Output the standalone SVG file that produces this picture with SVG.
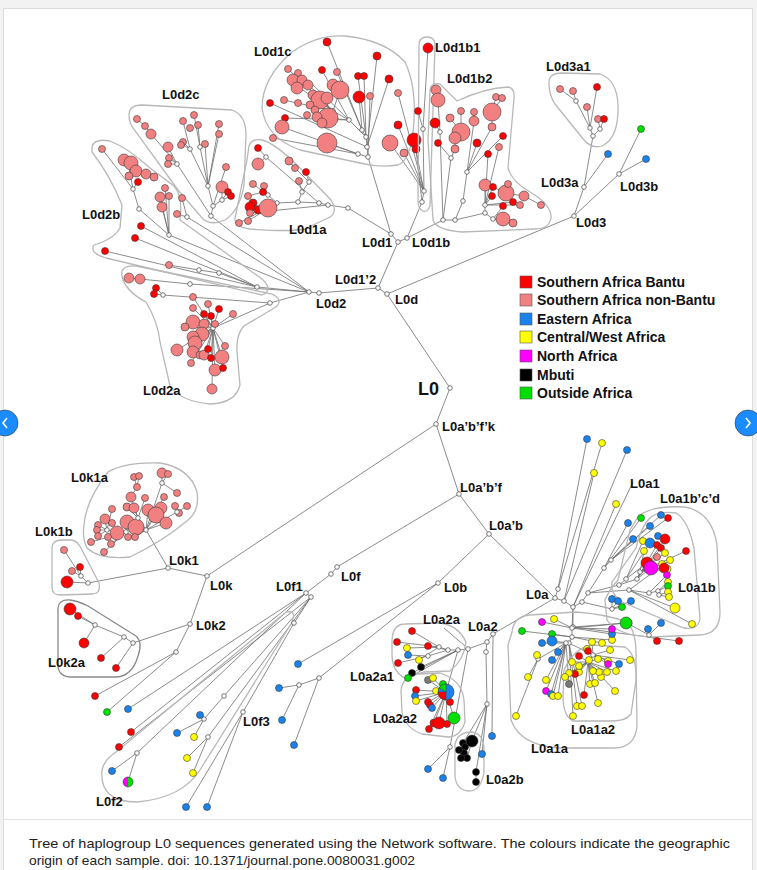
<svg xmlns="http://www.w3.org/2000/svg" width="757" height="870" viewBox="0 0 757 870">
<defs>
<style>
.e{fill:none;stroke:#6f6f6f;stroke-width:.8}
.h{fill:none;stroke:#b8b8b8;stroke-width:1.3}
.hd{fill:none;stroke:#8a8a8a;stroke-width:1.3}
circle{stroke:#3a3a3a;stroke-width:.6}
.n{fill:#fff;stroke:#555;stroke-width:.8}
.R{fill:#ff0000}.P{fill:#f38080}.B{fill:#1a82ec}.Y{fill:#ffff00}.M{fill:#ff00ff}.K{fill:#000}.G{fill:#00e000}.Gr{fill:#7a7a7a}
.l{font-family:"Liberation Sans",Arial,sans-serif;font-weight:bold;font-size:13px;fill:#111}
.lg{font-family:"Liberation Sans",Arial,sans-serif;font-weight:bold;font-size:14px;fill:#111}
.cap{font-family:"Liberation Sans",Arial,sans-serif;font-size:13px;fill:#222}
</style>
</defs>
<rect x="0" y="0" width="757" height="870" fill="#fff"/>
<rect x="0" y="0" width="757" height="8" fill="#f2f2f2"/>
<line x1="0" y1="8.5" x2="757" y2="8.5" stroke="#dcdcdc"/>
<rect x="0" y="8" width="3" height="862" fill="#f2f2f2"/>
<line x1="3.5" y1="8" x2="3.5" y2="870" stroke="#dcdcdc"/>
<line x1="752.5" y1="8" x2="752.5" y2="870" stroke="#dcdcdc"/>
<rect x="753" y="8" width="4" height="862" fill="#f2f2f2"/>
<line x1="3" y1="819.5" x2="753" y2="819.5" stroke="#e2e2e2"/>

<g id="connectors" class="e">
<path d="M450,388 L387,294 M387,294 L378,288 M387,294 L574,216 M450,388 L436,424 M378,288 L398,242 L407,238 M398,242 L391,234 L368,157 M391,234 L348,208 M378,288 L319,293 L309,292 M436,424 L459,494 L489,534 L555,598 M489,534 L438,583 M459,494 L337,567 L331,574 M436,424 L207,576"/>
<path d="M574,216 L584,187 L608,154 M584,187 L593,136 L590,128 L576,101 L560,89 M576,101 L573,91 M590,128 L587,107 M590,128 L597,87 M593,136 L600,129 L598,119 M600,129 L604,119 M574,216 L619,174 L641,129 M619,174 L646,159"/>
<path d="M368,157 L367,147 L366,137 L362,130 M368,157 L358,154 L273,138 M358,154 L327,143 M358,154 L282,127 M367,147 L270,103 M366,137 L349,120 L333,111 L320,100 M333,111 L340,90 M362,130 L327,42 M362,130 L337,72 M366,137 L358,76 M366,137 L364,76 M367,147 L377,56 M368,157 L370,96 M349,120 L328,118 M362,130 L359,97 M333,111 L288,69 M333,111 L298,73 M349,120 L322,70 M333,111 L284,100 M349,120 L285,118 M367,147 L389,79 M333,111 L300,88 M349,120 L310,82"/>
<path d="M407,238 L422,202 L424,191 L423,129 L428,48 M423,129 L418,111 M424,191 L414,140 M424,191 L404,153 M424,191 L390,143 M424,191 L398,125 M422,202 L416,149 M424,191 L398,93"/>
<path d="M407,238 L443,220 L455,220 L485,213 L493,219 L503,219 M493,219 L513,223 M443,220 L440,132 L438,100 L436,90 M440,132 L435,123 M443,220 L451,158 L455,149 L455,138 L461,132 M451,158 L438,143 M455,220 L463,201 L467,172 L474,121 L474,112 M461,132 L450,118 M461,132 L461,111 M467,172 L477,143 M467,172 L492,127 L492,112 M492,112 L496,97 M492,112 L502,98 M467,172 L503,136 M485,213 L485,205 L485,185 M485,205 L488,154 M485,205 L499,147 M485,205 L493,187 L506,193 M485,205 L492,196 M493,219 L503,206 M485,205 L520,205 M506,193 L524,196 L541,205 M506,193 L508,184 M485,205 L513,202"/>
<path d="M348,208 L328,205 L319,203 L298,202 L277,203 L268,195 M277,203 L268,208 M268,195 L264,186 M268,195 L253,184 M298,202 L302,192 L309,182 L306,172 M302,192 L299,181 M309,182 L295,168 L289,161 M319,203 L266,157 L258,148 M266,157 L258,164 M328,205 L250,213 M277,203 L239,223 M277,203 L248,221 M268,195 L263,192 L248,196 M277,203 L250,207 M277,203 L258,210"/>
<path d="M309,292 L211,216 L213,206 L208,186 L190,149 L183,121 M190,149 L183,142 M190,149 L181,144 M208,186 L200,147 L194,115 M200,147 L198,125 M208,186 L219,124 M208,186 L219,134 M208,186 L205,144 M213,206 L226,167 M213,206 L222,200 L222,187 M222,200 L228,192 M222,200 L231,196 M211,216 L177,164 L168,147 M177,164 L151,134 L145,126 L137,119 M177,164 L169,158 M177,164 L168,164"/>
<path d="M309,292 L169,235 L139,209 L133,189 L129,168 M133,189 L102,149 M133,189 L138,182 M169,235 L165,188 M169,235 L160,197 M169,235 L162,207 M169,235 L169,196 M309,292 L187,217 L182,198 M187,217 L177,214 M257,287 L141,226 M257,287 L135,238 M309,292 L257,287 L219,273 L199,270 L169,265 M257,287 L105,251 M309,292 L190,284 L140,279 L129,278 M270,303 L163,295 L156,288 M163,295 L154,294 M309,292 L270,303 L213,328"/>
<path d="M213,328 L193,297 M213,328 L208,304 M213,328 L219,309 M213,328 L204,314 M213,328 L211,316 M213,328 L233,314 M213,328 L193,308 M213,328 L193,322 M213,328 L185,327 M213,328 L202,334 M213,328 L195,343 M213,328 L177,350 M213,328 L193,352 M213,328 L208,349 M213,328 L211,358 M213,328 L222,357 M213,328 L215,370 M213,328 L223,368 M213,328 L212,389 M213,328 L225,346 M213,328 L191,363 M213,328 L204,355"/>
<path d="M207,576 L168,568 L146,530 M168,568 L88,583 L81,576 L72,571 M81,576 L80,567 M81,576 L64,550 M88,583 L67,582 M207,576 L190,624 L133,643 L124,637 L95,625 L70,609 M95,625 L78,616 M95,625 L84,643 M124,637 L101,658 M133,643 L116,668 M190,624 L176,652 L95,696 M176,652 L107,712"/>
<path d="M146,530 L138,518 L134,508 M138,518 L131,497 L137,487 L134,477 M137,487 L139,476 M138,518 L126,532 L117,533 M126,532 L107,530 L105,519 M107,530 L98,525 M107,530 L97,530 M107,530 L98,536 M107,530 L112,509 M126,532 L127,522 M146,530 L177,512 L187,506 M177,512 L179,513 M177,512 L175,506 M146,530 L162,483 L162,473 M162,483 L168,474 M146,530 L164,497 M146,530 L161,508 M146,530 L166,523 M146,530 L148,510 M126,532 L91,542 M126,532 L104,552 M126,532 L111,544 M138,518 L145,498 M138,518 L127,507 M126,532 L108,537 M146,530 L136,527 M146,530 L128,537 M146,530 L135,537 M162,483 L177,493"/>
<path d="M331,574 L306,593 L311,597 L294,623 M306,593 L128,709 M306,593 L131,732 M311,597 L119,747 M306,593 L137,753 L112,771 M137,753 L128,782 M311,597 L224,696 L204,719 L200,715 M204,719 L177,733 M204,719 L194,737 M311,597 L208,737 L187,758 M208,737 L193,773 M294,623 L243,712 L186,807 M243,712 L207,807"/>
<path d="M438,583 L298,664 M438,583 L319,678 L299,685 L279,688 M299,685 L282,720 M319,678 L294,745"/>
<path d="M555,598 L558,589 L587,439 M558,589 L602,443 M564,601 L594,473 M564,601 L627,450 M573,607 L616,504 M573,607 L633,482 M555,598 L564,601 L573,607"/>
<path d="M573,607 L582,602 L588,593 L604,568 L628,523 M604,568 L611,560 L633,539 M604,568 L641,518 M611,560 L650,526 M611,560 L661,515 M611,560 L668,518 M588,593 L619,585 L626,579 L647,563 M626,579 L643,541 M626,579 L650,543 M619,585 L637,579 L657,545 M637,579 L661,548 M637,579 L665,539 M637,579 L640,572 L644,551 M640,572 L657,557 M640,572 L665,553 M640,572 L686,551 M588,593 L629,590 L649,593 L658,591 L668,582 M658,591 L668,586 M658,591 L659,595 L668,592 M659,595 L669,597 M649,593 L667,575 M629,590 L675,608 M629,590 L692,624 M629,590 L670,560 M582,602 L612,609 L612,599 M612,609 L618,601 M612,609 L631,601 M612,609 L622,607 M573,607 L573,627 L627,623 L649,635 L661,623 M649,635 L648,629 M649,635 L657,641 M573,627 L679,641 M637,579 L651,568 M640,572 L662,564 M640,572 L667,569"/>
<path d="M573,607 L572,628 L572,637 L569,643 L566,643 M572,628 L554,619 M572,628 L542,622 M572,628 L626,623 M572,628 L612,629 M572,628 L612,634 M572,637 L612,640 M572,637 L602,643 M572,637 L522,631 M572,637 L552,634 M569,643 L542,643 M569,643 L552,641 M566,643 L558,652 M566,643 L552,660 M566,643 L538,659 L528,677 M538,659 L516,716 M538,659 L537,655 M566,643 L546,680 M566,643 L546,691 M566,643 L551,694 M566,643 L553,696 M566,643 L558,696 M566,643 L569,684 M569,643 L573,716 M569,643 L577,706 M569,643 L582,706 M569,643 L593,655 L588,651 M593,655 L587,649 M593,655 L592,642 M593,655 L610,650 M593,655 L588,662 L579,656 M588,662 L572,662 M588,662 L579,666 M588,662 L589,660 M588,662 L598,659 M588,662 L584,695 M588,662 L575,674 M588,662 L569,673 M588,662 L565,677 M588,662 L579,672 M588,662 L593,671 M588,662 L599,672 M588,662 L601,677 M588,662 L607,672 M588,662 L616,671 M588,662 L590,684 M588,662 L595,683 M588,662 L598,703 M588,662 L615,691 M593,655 L608,661 M593,655 L608,664 M593,655 L619,664 M593,655 L630,660"/>
<path d="M555,598 L493,634 L487,642 L468,649 L458,650 L448,650 L439,647 L412,631 M439,647 L397,642 M448,650 L428,646 M439,647 L407,648 M448,650 L428,656 L408,655 M428,656 L398,663 M439,647 L419,660 M458,650 L421,667 M458,650 L412,673 M458,650 L408,678 M468,649 L450,747 L428,769 M450,747 L443,778 M458,650 L446,692 M446,692 L428,680 M446,692 L433,678 M446,692 L443,684 M446,692 L416,690 M446,692 L415,696 M446,692 L416,701 M446,692 L436,691 M446,692 L428,702 M446,692 L430,705 M446,692 L432,708 M446,692 L450,702 M446,692 L439,723 M446,692 L434,723 M446,692 L447,724 M446,692 L454,718 M446,692 L429,729 M487,642 L486,652 L487,704 L472,741 M487,704 L476,772 L476,782 M487,704 L463,743 M487,704 L482,754 M493,634 L492,736 M472,741 L464,753 M472,741 L459,750 M472,741 L467,758 M472,741 L461,758 M444,628 L465,646"/>
</g>

<g id="backbone">
<circle class="n" cx="450" cy="388" r="2.3"/><circle class="n" cx="387" cy="294" r="2.3"/><circle class="n" cx="378" cy="288" r="2.3"/><circle class="n" cx="398" cy="242" r="2.3"/><circle class="n" cx="407" cy="238" r="2.3"/><circle class="n" cx="391" cy="234" r="2.3"/><circle class="n" cx="436" cy="424" r="2.3"/><circle class="n" cx="459" cy="494" r="2.3"/><circle class="n" cx="489" cy="534" r="2.3"/><circle class="n" cx="555" cy="598" r="2.3"/><circle class="n" cx="438" cy="583" r="2.3"/><circle class="n" cx="337" cy="567" r="2.3"/><circle class="n" cx="331" cy="574" r="2.3"/>
<text class="l" x="418" y="395" style="font-size:18px">L0</text>
<text class="l" x="395" y="304">L0d</text>
<text class="l" x="335" y="284">L0d1’2</text>
<text class="l" x="362" y="247">L0d1</text>
<text class="l" x="412" y="247">L0d1b</text>
<text class="l" x="442" y="431">L0a’b’f’k</text>
<text class="l" x="460" y="492">L0a’b’f</text>
<text class="l" x="489" y="530">L0a’b</text>
<text class="l" x="341" y="581">L0f</text>
<text class="l" x="444" y="592">L0b</text>
<text class="l" x="526" y="599">L0a</text>
</g>

<g id="L0d3">
<path class="h" d="M549,84 Q548,73 562,73 L600,74 Q617,80 618,105 Q619,138 602,146 Q592,149 584,140 L555,104 Q549,95 549,84 Z"/>
<circle class="n" cx="574" cy="216" r="2.3"/><circle class="n" cx="584" cy="187" r="2.3"/><circle class="n" cx="619" cy="174" r="2.3"/><circle class="n" cx="593" cy="136" r="2.3"/><circle class="n" cx="590" cy="128" r="2.3"/><circle class="n" cx="600" cy="129" r="2.3"/><circle class="n" cx="576" cy="101" r="2.3"/>
<circle class="B" cx="608" cy="154" r="3.5"/><circle class="G" cx="641" cy="129" r="3.5"/><circle class="B" cx="646" cy="159" r="3.5"/>
<circle class="P" cx="560" cy="89" r="3.5"/><circle class="P" cx="573" cy="91" r="3.5"/><circle class="R" cx="597" cy="87" r="3.5"/><circle class="P" cx="587" cy="107" r="3.5"/><circle class="P" cx="598" cy="119" r="3.5"/><circle class="R" cx="604" cy="119" r="3.5"/>
<text class="l" x="546" y="71">L0d3a1</text>
<text class="l" x="541" y="187">L0d3a</text>
<text class="l" x="620" y="191">L0d3b</text>
<text class="l" x="576" y="227">L0d3</text>
</g>

<g id="L0d1c">
<path class="h" d="M262,108 Q262,78 292,52 Q318,34 345,36 Q385,40 405,62 Q416,85 414,120 Q412,160 398,165 Q380,168 360,163 L300,150 Q266,138 262,108 Z"/>
<circle class="n" cx="368" cy="157" r="2.3"/><circle class="n" cx="358" cy="154" r="2.3"/><circle class="n" cx="367" cy="147" r="2.3"/><circle class="n" cx="366" cy="137" r="2.3"/><circle class="n" cx="362" cy="130" r="2.3"/><circle class="n" cx="349" cy="120" r="2.3"/><circle class="n" cx="333" cy="111" r="2.3"/>
<circle class="R" cx="327" cy="42" r="4"/><circle class="R" cx="377" cy="56" r="4"/><circle class="P" cx="288" cy="69" r="3.5"/><circle class="P" cx="298" cy="73" r="3.5"/><circle class="R" cx="322" cy="70" r="3.5"/><circle class="P" cx="337" cy="72" r="3.5"/><circle class="R" cx="358" cy="76" r="3.5"/><circle class="R" cx="364" cy="76" r="3.5"/>
<circle class="P" cx="293" cy="80" r="6"/><circle class="P" cx="302" cy="80" r="5"/><circle class="P" cx="297" cy="88" r="6"/><circle class="P" cx="308" cy="85" r="5"/><circle class="P" cx="313" cy="95" r="5"/><circle class="P" cx="333" cy="85" r="6"/><circle class="P" cx="340" cy="90" r="9"/><circle class="P" cx="320" cy="100" r="9"/><circle class="P" cx="327" cy="98" r="6"/><circle class="P" cx="310" cy="105" r="4"/><circle class="P" cx="315" cy="110" r="4"/><circle class="P" cx="328" cy="118" r="10"/><circle class="P" cx="317" cy="117" r="5"/><circle class="P" cx="322" cy="123" r="5"/><circle class="P" cx="307" cy="115" r="3.5"/><circle class="P" cx="298" cy="103" r="3.5"/><circle class="P" cx="284" cy="100" r="3.5"/>
<circle class="R" cx="359" cy="97" r="6"/><circle class="P" cx="370" cy="96" r="3.5"/><circle class="R" cx="270" cy="103" r="3.5"/><circle class="R" cx="285" cy="118" r="3.5"/><circle class="P" cx="282" cy="127" r="7"/><circle class="P" cx="273" cy="138" r="3.5"/><circle class="P" cx="327" cy="143" r="10"/>
<circle class="R" cx="389" cy="79" r="4"/><circle class="P" cx="398" cy="93" r="3.5"/><circle class="R" cx="398" cy="125" r="4"/><circle class="P" cx="390" cy="143" r="8"/><circle class="R" cx="414" cy="140" r="7"/><circle class="R" cx="416" cy="149" r="4"/><circle class="P" cx="404" cy="153" r="4"/>
<text class="l" x="254" y="56">L0d1c</text>
</g>

<g id="L0d1b1">
<path class="h" d="M419,45 Q419,37 427,37 Q435,37 435,45 L430,206 Q427,213 423,211 Q418,209 418,200 Z"/>
<circle class="n" cx="423" cy="129" r="2.3"/><circle class="n" cx="424" cy="191" r="2.3"/><circle class="n" cx="422" cy="202" r="2.3"/>
<circle class="R" cx="428" cy="48" r="5"/><circle class="R" cx="418" cy="111" r="3.5"/>
<text class="l" x="435" y="52">L0d1b1</text>
</g>

<g id="L0d1b2">
<path class="h" d="M430,90 Q431,82 440,84 L457,101 Q485,88 508,87 Q515,88 514,98 L508,168 Q512,182 530,192 Q552,205 551,218 Q549,229 535,229 L462,232 Q436,230 433,220 L428,140 Z"/>
<circle class="n" cx="443" cy="220" r="2.3"/><circle class="n" cx="455" cy="220" r="2.3"/><circle class="n" cx="485" cy="213" r="2.3"/><circle class="n" cx="485" cy="205" r="2.3"/><circle class="n" cx="493" cy="219" r="2.3"/><circle class="n" cx="463" cy="201" r="2.3"/><circle class="n" cx="467" cy="172" r="2.3"/><circle class="n" cx="451" cy="158" r="2.3"/><circle class="n" cx="440" cy="132" r="2.3"/>
<circle class="P" cx="436" cy="90" r="5"/><circle class="P" cx="438" cy="100" r="7"/><circle class="R" cx="435" cy="123" r="5"/><circle class="P" cx="450" cy="118" r="4"/><circle class="P" cx="461" cy="111" r="3.5"/><circle class="P" cx="474" cy="112" r="3.5"/><circle class="P" cx="474" cy="121" r="5"/><circle class="P" cx="461" cy="132" r="9"/><circle class="P" cx="455" cy="138" r="6"/><circle class="P" cx="455" cy="149" r="4"/><circle class="R" cx="477" cy="143" r="4"/><circle class="R" cx="438" cy="143" r="3.5"/>
<circle class="P" cx="492" cy="112" r="9"/><circle class="P" cx="496" cy="97" r="3.5"/><circle class="P" cx="502" cy="98" r="3.5"/><circle class="P" cx="492" cy="127" r="4"/><circle class="R" cx="503" cy="136" r="3.5"/><circle class="P" cx="499" cy="147" r="3.5"/><circle class="R" cx="488" cy="154" r="3.5"/>
<circle class="P" cx="485" cy="185" r="6"/><circle class="R" cx="493" cy="187" r="3.5"/><circle class="P" cx="506" cy="193" r="8"/><circle class="P" cx="508" cy="184" r="3.5"/><circle class="P" cx="524" cy="196" r="5"/><circle class="P" cx="541" cy="205" r="3.5"/><circle class="R" cx="492" cy="196" r="3.5"/><circle class="R" cx="503" cy="206" r="3.5"/><circle class="R" cx="513" cy="202" r="3.5"/><circle class="P" cx="520" cy="205" r="3.5"/><circle class="P" cx="503" cy="219" r="7"/><circle class="P" cx="513" cy="223" r="4"/>
<text class="l" x="447" y="83">L0d1b2</text>
</g>

<g id="L0d1a">
<path class="h" d="M249,146 Q252,138 262,140 Q275,143 300,168 L331,200 Q338,212 330,217 L305,229 Q290,232 250,229 Q234,227 235,218 L247,160 Z"/>
<circle class="n" cx="348" cy="208" r="2.3"/><circle class="n" cx="328" cy="205" r="2.3"/><circle class="n" cx="319" cy="203" r="2.3"/><circle class="n" cx="298" cy="202" r="2.3"/><circle class="n" cx="277" cy="203" r="2.3"/><circle class="n" cx="268" cy="195" r="2.3"/><circle class="n" cx="302" cy="192" r="2.3"/><circle class="n" cx="309" cy="182" r="2.3"/><circle class="n" cx="266" cy="157" r="2.3"/>
<circle class="R" cx="258" cy="148" r="3.5"/><circle class="P" cx="258" cy="164" r="6"/><circle class="P" cx="289" cy="161" r="4"/><circle class="P" cx="295" cy="168" r="3.5"/><circle class="R" cx="306" cy="172" r="3.5"/><circle class="P" cx="299" cy="181" r="3.5"/><circle class="P" cx="253" cy="184" r="3.5"/><circle class="P" cx="264" cy="186" r="3.5"/><circle class="R" cx="263" cy="192" r="3.5"/><circle class="P" cx="248" cy="196" r="3.5"/>
<circle class="R" cx="253" cy="203" r="4"/><circle class="R" cx="250" cy="207" r="5"/><circle class="R" cx="258" cy="210" r="4"/><circle class="P" cx="268" cy="208" r="9"/><circle class="P" cx="250" cy="213" r="3.5"/><circle class="P" cx="239" cy="223" r="3.5"/><circle class="P" cx="248" cy="221" r="3.5"/>
<text class="l" x="289" y="234">L0d1a</text>
</g>

<g id="L0d2c">
<path class="h" d="M129,115 Q129,105 142,105 L232,110 Q246,115 246,135 L244,185 Q240,210 225,220 Q212,226 203,219 L178,190 L133,128 Q129,122 129,115 Z"/>
<circle class="n" cx="177" cy="164" r="2.3"/><circle class="n" cx="190" cy="149" r="2.3"/><circle class="n" cx="200" cy="147" r="2.3"/><circle class="n" cx="208" cy="186" r="2.3"/><circle class="n" cx="213" cy="206" r="2.3"/><circle class="n" cx="222" cy="200" r="2.3"/><circle class="n" cx="211" cy="216" r="2.3"/>
<circle class="P" cx="137" cy="119" r="3.5"/><circle class="P" cx="145" cy="126" r="3.5"/><circle class="P" cx="151" cy="134" r="5"/><circle class="P" cx="168" cy="147" r="5"/><circle class="P" cx="169" cy="158" r="3.5"/><circle class="P" cx="168" cy="164" r="3.5"/><circle class="P" cx="183" cy="121" r="3.5"/><circle class="P" cx="194" cy="115" r="3.5"/><circle class="P" cx="198" cy="125" r="3.5"/><circle class="P" cx="190" cy="128" r="3.5"/><circle class="P" cx="219" cy="124" r="3.5"/><circle class="P" cx="219" cy="134" r="3.5"/><circle class="P" cx="205" cy="144" r="3.5"/><circle class="P" cx="183" cy="142" r="3.5"/><circle class="P" cx="181" cy="145" r="3.5"/><circle class="P" cx="226" cy="167" r="3.5"/><circle class="P" cx="222" cy="187" r="6"/><circle class="R" cx="228" cy="192" r="3.5"/><circle class="R" cx="231" cy="196" r="3.5"/>
<text class="l" x="162" y="99">L0d2c</text>
</g>

<g id="L0d2b">
<path class="h" d="M92,147 Q94,138 110,141 Q128,148 150,168 L174,186 Q183,196 180,220 L262,279 Q274,290 262,295 L106,258 Q89,253 94,245 Q114,239 120,228 L122,205 Q110,175 92,152 Z"/>
<circle class="n" cx="133" cy="189" r="2.3"/><circle class="n" cx="139" cy="209" r="2.3"/><circle class="n" cx="169" cy="235" r="2.3"/><circle class="n" cx="187" cy="217" r="2.3"/><circle class="n" cx="257" cy="287" r="2.3"/><circle class="n" cx="219" cy="273" r="2.3"/><circle class="n" cx="199" cy="270" r="2.3"/>
<circle class="P" cx="102" cy="149" r="3.5"/><circle class="P" cx="124" cy="160" r="6"/><circle class="P" cx="131" cy="163" r="7"/><circle class="P" cx="136" cy="171" r="6"/><circle class="P" cx="146" cy="174" r="5"/><circle class="P" cx="154" cy="177" r="4"/><circle class="P" cx="129" cy="176" r="4"/><circle class="R" cx="138" cy="182" r="3.5"/>
<circle class="P" cx="165" cy="188" r="3.5"/><circle class="P" cx="160" cy="197" r="5"/><circle class="P" cx="162" cy="207" r="5"/><circle class="P" cx="169" cy="196" r="3.5"/><circle class="P" cx="182" cy="198" r="3.5"/><circle class="P" cx="177" cy="214" r="3.5"/><circle class="R" cx="141" cy="226" r="3.5"/><circle class="R" cx="135" cy="238" r="3.5"/><circle class="R" cx="105" cy="251" r="3.5"/><circle class="P" cx="169" cy="265" r="3.5"/>
<text class="l" x="82" y="219">L0d2b</text>
</g>

<g id="L0d2a">
<path class="h" d="M122,276 Q120,265 136,266 L200,279 L272,294 Q284,300 276,307 L244,326 Q236,334 237,352 L240,385 Q236,403 210,404 Q180,401 170,386 L160,342 Q158,322 146,302 Q125,291 122,276 Z"/>
<circle class="n" cx="190" cy="284" r="2.3"/><circle class="n" cx="163" cy="295" r="2.3"/><circle class="n" cx="270" cy="303" r="2.3"/><circle class="n" cx="309" cy="292" r="2.3"/><circle class="n" cx="319" cy="293" r="2.3"/><circle class="n" cx="213" cy="328" r="2.3"/>
<circle class="P" cx="129" cy="278" r="5"/><circle class="P" cx="140" cy="279" r="5"/><circle class="R" cx="156" cy="288" r="3.5"/><circle class="R" cx="154" cy="294" r="3.5"/>
<circle class="P" cx="193" cy="297" r="3.5"/><circle class="P" cx="208" cy="304" r="3.5"/><circle class="R" cx="219" cy="309" r="3.5"/><circle class="R" cx="204" cy="314" r="3.5"/><circle class="R" cx="211" cy="316" r="3.5"/><circle class="P" cx="233" cy="314" r="3.5"/><circle class="P" cx="193" cy="308" r="3.5"/>
<circle class="P" cx="193" cy="322" r="7"/><circle class="P" cx="204" cy="324" r="5"/><circle class="P" cx="185" cy="327" r="4"/><circle class="P" cx="202" cy="334" r="7"/><circle class="P" cx="193" cy="337" r="6"/><circle class="P" cx="195" cy="343" r="7"/><circle class="P" cx="177" cy="350" r="6"/><circle class="P" cx="193" cy="352" r="6"/><circle class="P" cx="200" cy="355" r="4"/><circle class="P" cx="204" cy="355" r="5"/><circle class="P" cx="225" cy="346" r="3.5"/><circle class="R" cx="208" cy="349" r="3.5"/><circle class="R" cx="211" cy="358" r="3.5"/><circle class="P" cx="222" cy="357" r="7"/><circle class="P" cx="191" cy="363" r="3.5"/><circle class="P" cx="215" cy="370" r="6"/><circle class="R" cx="223" cy="368" r="3.5"/><circle class="P" cx="212" cy="389" r="5"/><circle class="P" cx="215" cy="324" r="3.5"/>
<text class="l" x="143" y="395">L0d2a</text>
<text class="l" x="316" y="308">L0d2</text>
</g>

<g id="L0k">
<path class="h" d="M84,525 Q86,500 108,472 Q125,462 160,463 Q190,468 197,492 Q200,510 188,520 Q165,540 130,557 Q100,560 87,548 Q82,538 84,525 Z"/>
<path class="h" d="M52,548 Q52,540 62,540 L72,540 Q78,541 82,550 L99,583 Q101,594 92,594 L60,595 Q52,595 52,587 Z"/>
<path class="hd" d="M58,608 Q59,599 70,600 Q78,601 88,606 L136,636 Q143,642 138,656 Q132,677 115,677 L70,677 Q58,676 58,665 Z"/>
<circle class="n" cx="207" cy="576" r="2.3"/><circle class="n" cx="168" cy="568" r="2.3"/><circle class="n" cx="146" cy="530" r="2.3"/><circle class="n" cx="88" cy="583" r="2.3"/><circle class="n" cx="81" cy="576" r="2.3"/><circle class="n" cx="190" cy="624" r="2.3"/><circle class="n" cx="133" cy="643" r="2.3"/><circle class="n" cx="124" cy="637" r="2.3"/><circle class="n" cx="95" cy="625" r="2.3"/><circle class="n" cx="176" cy="652" r="2.3"/>
<circle class="P" cx="162" cy="473" r="5"/><circle class="P" cx="168" cy="474" r="3.5"/><circle class="P" cx="134" cy="477" r="3.5"/><circle class="P" cx="139" cy="476" r="3.5"/><circle class="P" cx="137" cy="487" r="3.5"/><circle class="P" cx="131" cy="497" r="5"/><circle class="P" cx="145" cy="498" r="3.5"/><circle class="P" cx="164" cy="497" r="3.5"/><circle class="P" cx="177" cy="493" r="3.5"/><circle class="P" cx="127" cy="507" r="4"/><circle class="P" cx="134" cy="508" r="5"/><circle class="P" cx="148" cy="510" r="6"/><circle class="P" cx="161" cy="508" r="6"/><circle class="P" cx="175" cy="506" r="3.5"/><circle class="P" cx="187" cy="506" r="3.5"/><circle class="P" cx="179" cy="513" r="3.5"/><circle class="P" cx="156" cy="515" r="8"/><circle class="P" cx="112" cy="509" r="3.5"/><circle class="P" cx="105" cy="519" r="5"/><circle class="P" cx="112" cy="523" r="3.5"/><circle class="P" cx="98" cy="525" r="3.5"/><circle class="P" cx="97" cy="530" r="3.5"/><circle class="P" cx="98" cy="536" r="3.5"/><circle class="P" cx="127" cy="522" r="7"/><circle class="P" cx="136" cy="527" r="8"/><circle class="P" cx="117" cy="533" r="7"/><circle class="P" cx="108" cy="537" r="3.5"/><circle class="P" cx="128" cy="537" r="3.5"/><circle class="P" cx="135" cy="537" r="3.5"/><circle class="P" cx="166" cy="523" r="6"/><circle class="P" cx="91" cy="542" r="3.5"/><circle class="P" cx="104" cy="552" r="3.5"/><circle class="P" cx="111" cy="544" r="3.5"/>
<circle class="n" cx="138" cy="518" r="2.3"/><circle class="n" cx="126" cy="532" r="2.3"/><circle class="n" cx="107" cy="530" r="2.3"/><circle class="n" cx="177" cy="512" r="2.3"/><circle class="n" cx="162" cy="483" r="2.3"/>
<circle class="P" cx="64" cy="550" r="3.5"/><circle class="P" cx="72" cy="571" r="3.5"/><circle class="R" cx="80" cy="567" r="3.5"/><circle class="R" cx="67" cy="582" r="6"/>
<circle class="R" cx="70" cy="609" r="6"/><circle class="R" cx="78" cy="616" r="3.5"/><circle class="R" cx="84" cy="643" r="5"/><circle class="R" cx="101" cy="658" r="3.5"/><circle class="R" cx="116" cy="668" r="3.5"/>
<circle class="R" cx="95" cy="696" r="3.5"/><circle class="G" cx="107" cy="712" r="3.5"/>
<text class="l" x="71" y="482">L0k1a</text>
<text class="l" x="35" y="536">L0k1b</text>
<text class="l" x="48" y="667">L0k2a</text>
<text class="l" x="169" y="565">L0k1</text>
<text class="l" x="210" y="590">L0k</text>
<text class="l" x="196" y="630">L0k2</text>
</g>

<g id="L0f">
<path class="h" d="M102,770 Q99,802 137,802 Q182,798 200,770 L291,624 Q298,610 286,612 L116,752 Q104,760 102,770 Z"/>
<circle class="n" cx="306" cy="593" r="2.3"/><circle class="n" cx="311" cy="597" r="2.3"/><circle class="n" cx="294" cy="623" r="2.3"/><circle class="n" cx="137" cy="753" r="2.3"/><circle class="n" cx="224" cy="696" r="2.3"/><circle class="n" cx="204" cy="719" r="2.3"/><circle class="n" cx="208" cy="737" r="2.3"/><circle class="n" cx="243" cy="712" r="2.3"/>
<circle class="B" cx="128" cy="709" r="3.5"/><circle class="R" cx="131" cy="732" r="3.5"/><circle class="R" cx="119" cy="747" r="3.5"/><circle class="B" cx="112" cy="771" r="3.5"/>
<path d="M128,777 A5,5 0 0,0 128,787 Z" fill="#ff00ff"/><path d="M128,777 A5,5 0 0,1 128,787 Z" fill="#00e000"/><circle cx="128" cy="782" r="5" fill="none"/>
<circle class="B" cx="200" cy="715" r="3.5"/><circle class="B" cx="177" cy="733" r="3.5"/><circle class="Y" cx="194" cy="737" r="3.5"/><circle class="Y" cx="187" cy="758" r="3.5"/><circle class="Y" cx="193" cy="773" r="3.5"/><circle class="B" cx="186" cy="807" r="3.5"/><circle class="B" cx="207" cy="807" r="3.5"/>
<text class="l" x="276" y="591">L0f1</text>
<text class="l" x="96" y="806">L0f2</text>
<text class="l" x="243" y="726">L0f3</text>
</g>

<g id="L0b">
<circle class="n" cx="319" cy="678" r="2.3"/><circle class="n" cx="299" cy="685" r="2.3"/>
<circle class="B" cx="298" cy="664" r="3.5"/><circle class="B" cx="279" cy="688" r="3.5"/><circle class="B" cx="282" cy="720" r="3.5"/><circle class="B" cx="294" cy="745" r="3.5"/>
</g>

<g id="L0a1">
<circle class="n" cx="558" cy="589" r="2.3"/><circle class="n" cx="564" cy="601" r="2.3"/><circle class="n" cx="573" cy="607" r="2.3"/>
<circle class="B" cx="587" cy="439" r="3.5"/><circle class="Y" cx="602" cy="443" r="3.5"/><circle class="B" cx="627" cy="450" r="3.5"/><circle class="Y" cx="594" cy="473" r="3.5"/><circle class="Y" cx="616" cy="504" r="3.5"/>
<text class="l" x="630" y="488">L0a1</text>
</g>

<g id="L0a1bcd">
<path class="h" d="M636,520 Q645,505 685,507 Q712,512 717,545 L720,612 Q720,634 700,635 L650,637 Q616,635 607,620 L605,600 Q609,590 618,580 L630,530 Z"/>
<path class="h" d="M648,520 Q656,510 676,513 Q688,520 694,548 L700,618 Q699,630 684,628 L622,602 Q610,594 612,582 L636,548 Q640,530 648,520 Z"/>
<circle class="n" cx="582" cy="602" r="2.3"/><circle class="n" cx="588" cy="593" r="2.3"/><circle class="n" cx="604" cy="568" r="2.3"/><circle class="n" cx="611" cy="560" r="2.3"/><circle class="n" cx="619" cy="585" r="2.3"/><circle class="n" cx="629" cy="590" r="2.3"/><circle class="n" cx="626" cy="579" r="2.3"/><circle class="n" cx="637" cy="579" r="2.3"/><circle class="n" cx="640" cy="572" r="2.3"/><circle class="n" cx="649" cy="593" r="2.3"/><circle class="n" cx="658" cy="591" r="2.3"/><circle class="n" cx="659" cy="595" r="2.3"/><circle class="n" cx="612" cy="609" r="2.3"/><circle class="n" cx="573" cy="627" r="2.3"/><circle class="n" cx="649" cy="635" r="2.3"/>
<circle class="B" cx="628" cy="523" r="3.5"/><circle class="G" cx="641" cy="518" r="3.5"/><circle class="B" cx="661" cy="515" r="3.5"/><circle class="R" cx="668" cy="518" r="3.5"/><circle class="B" cx="650" cy="526" r="3.5"/><circle class="B" cx="633" cy="539" r="3.5"/><circle class="B" cx="658" cy="536" r="3.5"/><circle class="R" cx="665" cy="539" r="5"/><circle class="Y" cx="643" cy="541" r="3.5"/><circle class="B" cx="650" cy="543" r="5"/><circle class="R" cx="657" cy="545" r="3.5"/><circle class="R" cx="661" cy="548" r="3.5"/><circle class="Y" cx="644" cy="551" r="3.5"/><circle class="Y" cx="665" cy="553" r="3.5"/><circle class="P" cx="657" cy="557" r="3.5"/><circle class="R" cx="686" cy="551" r="3.5"/><circle class="Y" cx="670" cy="560" r="3.5"/>
<circle class="R" cx="647" cy="563" r="6"/><circle class="Y" cx="662" cy="564" r="3.5"/><circle class="Y" cx="667" cy="569" r="4"/><circle class="R" cx="664" cy="568" r="5"/><circle class="M" cx="651" cy="568" r="7"/><circle class="M" cx="667" cy="575" r="3.5"/><circle class="Y" cx="668" cy="582" r="3.5"/><circle class="G" cx="668" cy="586" r="3.5"/><circle class="Y" cx="668" cy="592" r="3.5"/><circle class="Y" cx="669" cy="597" r="3.5"/><circle class="Y" cx="675" cy="608" r="5"/><circle class="Y" cx="692" cy="624" r="3.5"/>
<circle class="B" cx="612" cy="599" r="3.5"/><circle class="B" cx="618" cy="601" r="3.5"/><circle class="B" cx="631" cy="601" r="3.5"/><circle class="G" cx="622" cy="607" r="3.5"/><circle class="G" cx="627" cy="623" r="5"/><circle class="B" cx="661" cy="623" r="3.5"/><circle class="B" cx="648" cy="629" r="3.5"/><circle class="R" cx="657" cy="641" r="3.5"/><circle class="R" cx="679" cy="641" r="3.5"/>
<text class="l" x="660" y="503">L0a1b’c’d</text>
<text class="l" x="678" y="592">L0a1b</text>
</g>

<g id="L0a1a">
<path class="h" d="M512,632 Q514,616 530,615 L576,612 Q605,614 627,622 Q637,632 636,660 L637,726 Q635,748 614,748 L558,748 Q520,745 511,720 L508,645 Z"/>
<path class="h" d="M564,670 Q574,648 592,645 L625,647 Q637,655 636,680 L631,714 Q626,721 612,721 L573,721 Q563,716 563,696 Z"/>
<circle class="n" cx="572" cy="628" r="2.3"/><circle class="n" cx="572" cy="637" r="2.3"/><circle class="n" cx="569" cy="643" r="2.3"/><circle class="n" cx="566" cy="643" r="2.3"/><circle class="n" cx="538" cy="659" r="2.3"/><circle class="n" cx="593" cy="655" r="2.3"/><circle class="n" cx="588" cy="662" r="2.3"/>
<circle class="M" cx="542" cy="622" r="3.5"/><circle class="Y" cx="554" cy="619" r="3.5"/><circle class="G" cx="522" cy="631" r="3.5"/><circle class="G" cx="552" cy="634" r="3.5"/><circle class="B" cx="542" cy="643" r="3.5"/><circle class="B" cx="552" cy="641" r="5"/><circle class="B" cx="558" cy="652" r="3.5"/><circle class="B" cx="552" cy="660" r="3.5"/><circle class="Y" cx="537" cy="655" r="3.5"/><circle class="Y" cx="528" cy="677" r="3.5"/><circle class="Y" cx="546" cy="680" r="3.5"/><circle class="M" cx="546" cy="691" r="3.5"/><circle class="B" cx="551" cy="694" r="3.5"/><circle class="Y" cx="553" cy="696" r="3.5"/><circle class="Y" cx="558" cy="696" r="3.5"/><circle class="Gr" cx="569" cy="684" r="3.5"/><circle class="Y" cx="516" cy="716" r="3.5"/>
<circle class="Y" cx="573" cy="716" r="3.5"/><circle class="Y" cx="577" cy="706" r="3.5"/><circle class="Y" cx="582" cy="706" r="3.5"/><circle class="R" cx="584" cy="695" r="3.5"/><circle class="Y" cx="598" cy="703" r="3.5"/><circle class="Y" cx="615" cy="691" r="3.5"/><circle class="Y" cx="590" cy="684" r="3.5"/><circle class="Y" cx="595" cy="683" r="3.5"/><circle class="Y" cx="601" cy="677" r="3.5"/><circle class="Y" cx="607" cy="672" r="3.5"/><circle class="Y" cx="616" cy="671" r="3.5"/><circle class="Y" cx="599" cy="672" r="3.5"/><circle class="Y" cx="593" cy="671" r="3.5"/><circle class="Y" cx="579" cy="672" r="3.5"/><circle class="R" cx="575" cy="674" r="3.5"/><circle class="Y" cx="569" cy="673" r="3.5"/><circle class="Y" cx="565" cy="677" r="3.5"/><circle class="Y" cx="572" cy="662" r="3.5"/><circle class="R" cx="579" cy="656" r="3.5"/><circle class="Y" cx="579" cy="666" r="3.5"/><circle class="Y" cx="587" cy="649" r="3.5"/><circle class="R" cx="588" cy="651" r="3.5"/><circle class="Y" cx="592" cy="642" r="3.5"/><circle class="Y" cx="602" cy="643" r="3.5"/><circle class="Y" cx="610" cy="650" r="3.5"/><circle class="Y" cx="612" cy="640" r="3.5"/><circle class="B" cx="612" cy="634" r="3.5"/><circle class="M" cx="612" cy="629" r="3.5"/><circle class="Y" cx="598" cy="659" r="3.5"/><circle class="Y" cx="589" cy="660" r="3.5"/><circle class="Y" cx="608" cy="661" r="3.5"/><circle class="M" cx="608" cy="664" r="3.5"/><circle class="B" cx="619" cy="664" r="3.5"/><circle class="Y" cx="630" cy="660" r="3.5"/><circle class="G" cx="626" cy="623" r="6"/>
<text class="l" x="531" y="753">L0a1a</text>
<text class="l" x="571" y="734">L0a1a2</text>
</g>

<g id="L0a2">
<path class="h" d="M392,640 Q393,624 405,624 L440,623 Q458,625 466,642 Q464,660 450,671 L424,672 L404,678 Q392,670 392,655 Z"/>
<path class="h" d="M401,690 Q403,676 418,674 L440,673 Q462,680 464,700 L465,722 Q460,737 448,737 L422,734 Q405,728 402,712 Z"/>
<path class="h" d="M455,745 Q457,732 472,732 Q484,734 484,750 L484,772 Q481,791 469,791 Q456,790 455,776 Z"/>
<circle class="n" cx="493" cy="634" r="2.3"/><circle class="n" cx="487" cy="642" r="2.3"/><circle class="n" cx="468" cy="649" r="2.3"/><circle class="n" cx="458" cy="650" r="2.3"/><circle class="n" cx="448" cy="650" r="2.3"/><circle class="n" cx="439" cy="647" r="2.3"/><circle class="n" cx="428" cy="656" r="2.3"/><circle class="n" cx="486" cy="652" r="2.3"/><circle class="n" cx="487" cy="704" r="2.3"/><circle class="n" cx="450" cy="747" r="2.3"/>
<circle class="R" cx="412" cy="631" r="3.5"/><circle class="R" cx="397" cy="642" r="3.5"/><circle class="R" cx="428" cy="646" r="3.5"/><circle class="Y" cx="407" cy="648" r="3.5"/><circle class="B" cx="408" cy="655" r="3.5"/><circle class="Y" cx="419" cy="660" r="3.5"/><circle class="R" cx="398" cy="663" r="3.5"/><circle class="K" cx="421" cy="667" r="3.5"/><circle class="K" cx="412" cy="673" r="3.5"/><circle class="G" cx="408" cy="678" r="3.5"/>
<circle class="Gr" cx="428" cy="680" r="3.5"/><circle class="Y" cx="433" cy="678" r="3.5"/><circle class="G" cx="443" cy="684" r="3.5"/><circle class="R" cx="416" cy="690" r="3.5"/><circle class="B" cx="415" cy="696" r="3.5"/><circle class="Y" cx="416" cy="701" r="3.5"/><circle class="Y" cx="436" cy="691" r="3.5"/><circle class="R" cx="428" cy="702" r="3.5"/><circle class="R" cx="430" cy="705" r="3.5"/><circle class="B" cx="432" cy="708" r="3.5"/><circle class="R" cx="450" cy="702" r="3.5"/><circle class="R" cx="434" cy="723" r="4"/><circle class="R" cx="439" cy="723" r="6"/><circle class="R" cx="447" cy="724" r="3.5"/><circle class="G" cx="454" cy="718" r="6"/><circle class="R" cx="429" cy="729" r="3.5"/>
<circle class="B" cx="446" cy="692" r="8"/><path d="M446,692 L446,684 A8,8 0 0,0 439.1,688 Z" fill="#00e000" stroke="#3a3a3a" stroke-width=".5"/><path d="M446,692 L438,692 A8,8 0 0,0 446,700 Z" fill="#ff0000" stroke="#3a3a3a" stroke-width=".5"/>
<circle class="K" cx="472" cy="741" r="6"/><circle class="K" cx="463" cy="743" r="3.5"/><circle class="K" cx="465" cy="747" r="3.5"/><circle class="K" cx="464" cy="753" r="3.5"/><circle class="K" cx="459" cy="750" r="3.5"/><circle class="K" cx="467" cy="758" r="3.5"/><circle class="K" cx="461" cy="758" r="3.5"/><circle class="K" cx="476" cy="772" r="3.5"/><circle class="K" cx="476" cy="782" r="3.5"/>
<circle class="B" cx="482" cy="754" r="3.5"/><circle class="B" cx="492" cy="736" r="3.5"/><circle class="B" cx="428" cy="769" r="3.5"/><circle class="B" cx="443" cy="778" r="3.5"/>
<text class="l" x="423" y="624">L0a2a</text>
<text class="l" x="468" y="631">L0a2</text>
<text class="l" x="350" y="681">L0a2a1</text>
<text class="l" x="373" y="723">L0a2a2</text>
<text class="l" x="486" y="784">L0a2b</text>
</g>

<g id="legend">
<rect x="520" y="276" width="12" height="12" fill="#ff0000" stroke="#555" stroke-width=".6"/>
<rect x="520" y="294" width="12" height="12" fill="#f38080" stroke="#555" stroke-width=".6"/>
<rect x="520" y="313" width="12" height="12" fill="#1a82ec" stroke="#555" stroke-width=".6"/>
<rect x="520" y="331" width="12" height="12" fill="#ffff00" stroke="#555" stroke-width=".6"/>
<rect x="520" y="350" width="12" height="12" fill="#ff00ff" stroke="#555" stroke-width=".6"/>
<rect x="520" y="369" width="12" height="12" fill="#000" stroke="#555" stroke-width=".6"/>
<rect x="520" y="387" width="12" height="12" fill="#00e000" stroke="#555" stroke-width=".6"/>
<text class="lg" x="537" y="287">Southern Africa Bantu</text>
<text class="lg" x="537" y="305">Southern Africa non-Bantu</text>
<text class="lg" x="537" y="324">Eastern Africa</text>
<text class="lg" x="537" y="342">Central/West Africa</text>
<text class="lg" x="537" y="361">North Africa</text>
<text class="lg" x="537" y="380">Mbuti</text>
<text class="lg" x="537" y="398">Outside Africa</text>
</g>

<g id="nav">
<circle cx="5" cy="423" r="13" fill="#1a8cff" stroke="none"/>
<path d="M7,418 L3,423 L7,428" fill="none" stroke="#fff" stroke-width="1.6"/>
<circle cx="748" cy="423" r="13" fill="#1a8cff" stroke="none"/>
<path d="M746,418 L750,423 L746,428" fill="none" stroke="#fff" stroke-width="1.6"/>
</g>

<g id="caption">
<text class="cap" x="29" y="848" textLength="701" lengthAdjust="spacingAndGlyphs">Tree of haplogroup L0 sequences generated using the Network software. The colours indicate the geographic</text>
<text class="cap" x="29" y="865" textLength="386" lengthAdjust="spacingAndGlyphs">origin of each sample. doi: 10.1371/journal.pone.0080031.g002</text>
</g>
</svg>
